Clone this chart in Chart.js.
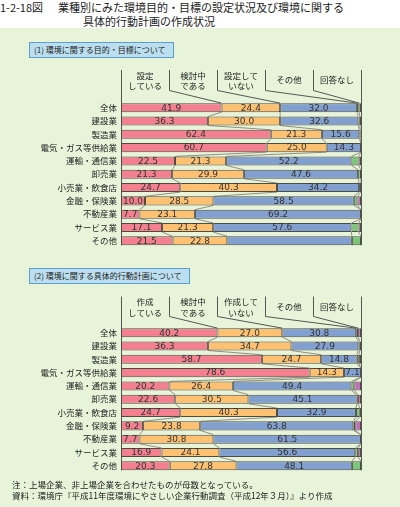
<!DOCTYPE html>
<html><head><meta charset="utf-8">
<script src="https://cdn.jsdelivr.net/npm/chart.js@4"></script>
<style>
body{margin:0;width:400px;height:507px;position:relative;background:#fff;font-family:"Noto Sans CJK JP",sans-serif;overflow:hidden}
#bg{position:absolute;left:0;top:28px;width:400px;height:479px;background:#e8f4d9}
.t{position:absolute;white-space:nowrap;color:#222}
.box{position:absolute;left:29px;height:14px;border:1px solid #5a9fd0;background:#bcdff0;font-size:8px;line-height:14px;padding:0 8px 0 4px;color:#222;white-space:nowrap}
canvas{position:absolute;left:0}
</style></head>
<body>
<div id="bg"></div>
<div class="t" style="left:0;top:0;font-size:11px;line-height:15px">1-2-18図</div>
<div class="t" style="left:58px;top:0;font-size:11px;line-height:15px">業種別にみた環境目的・目標の設定状況及び環境に関する</div>
<div class="t" style="left:83px;top:14px;font-size:11px;line-height:15px">具体的行動計画の作成状況</div>
<div class="box" style="top:41.5px">(1)&nbsp;環境に関する目的・目標について</div>
<div class="box" style="top:267.5px">(2)&nbsp;環境に関する具体的行動計画について</div>
<canvas id="c1" width="400" height="200" style="top:60px"></canvas>
<canvas id="c2" width="400" height="200" style="top:285px"></canvas>
<div class="t" style="left:12px;top:479px;font-size:8.5px;line-height:11px">注：上場企業、非上場企業を合わせたものが母数となっている。<br>資料：環境庁『平成11年度環境にやさしい企業行動調査（平成12年３月）』より作成</div>
<script>
const categories = ["全体","建設業","製造業","電気・ガス等供給業","運輸・通信業","卸売業","小売業・飲食店","金融・保険業","不動産業","サービス業","その他"];

// Panel 1: 環境目的・目標
const p1Headers = [["設定","している"],["検討中","である"],["設定して","いない"],["その他"],["回答なし"]];
const p1Set      = [41.9,36.3,62.4,60.7,22.5,21.3,24.7,10.0,7.7,17.1,21.5];
const p1Consider = [24.4,30.0,21.3,25.0,21.3,29.9,40.3,28.5,23.1,21.3,22.8];
const p1NotSet   = [32.0,32.6,15.6,14.3,52.2,47.6,34.2,58.5,69.2,57.6,51.9];
const p1Other    = [1.0,0.6,0.4,0,3.0,1.2,0.8,1.5,0,3.0,3.8];
const p1NoAnswer = [0.7,0.5,0.3,0,1.0,0,0,1.5,0,1.0,0];
const p1Unlabeled = [[2,10]]; // [series, row] values printed without number

// Panel 2: 具体的行動計画
const p2Headers = [["作成","している"],["検討中","である"],["作成して","いない"],["その他"],["回答なし"]];
const p2Make     = [40.2,36.3,58.7,78.6,20.2,22.6,24.7,9.2,7.7,16.9,20.3];
const p2Consider = [27.0,34.7,24.7,14.3,26.4,30.5,40.3,23.8,30.8,24.1,27.8];
const p2NotMake  = [30.8,27.9,14.8,7.1,49.4,45.1,32.9,63.8,61.5,56.6,48.1];
const p2Other    = [0.8,0.6,0.9,0,1.2,0.5,1.6,0.8,0,1.2,3.8];
const p2NoAnswer = [1.2,0.5,0.9,0,2.8,1.3,0.5,2.4,0,1.2,0];
const p2Unlabeled = [];

const colors = ["#f4808f","#fec071","#819fcf","#7cc679","#c46fb9"];
const CJK = '"Noto Sans CJK JP", sans-serif';

function overlayPlugin(headers, unlabeled, hTop, hBot){
  return {
    id:'overlay',
    beforeDatasetsDraw(chart){
      const ctx = chart.ctx, xs = chart.scales.x;
      const ds = chart.data.datasets;
      const n = chart.data.labels.length;
      const meta0 = chart.getDatasetMeta(0);
      const cum = (row,k)=>{let s=0;for(let j=0;j<=k;j++)s+=ds[j].data[row];return s;};
      const topOf = i => meta0.data[i].y - meta0.data[i].height/2;
      const botOf = i => meta0.data[i].y + meta0.data[i].height/2;
      ctx.save();
      ctx.strokeStyle = '#8f8f82'; ctx.lineWidth = 1;
      for(let i=0;i<n-1;i++){
        for(let k=0;k<4;k++){
          ctx.beginPath();
          ctx.moveTo(xs.getPixelForValue(cum(i,k)), botOf(i));
          ctx.lineTo(xs.getPixelForValue(cum(i+1,k)), topOf(i+1));
          ctx.stroke();
        }
      }
      ctx.strokeStyle = '#555'; ctx.lineWidth = 1;
      const lastBot = botOf(n-1);
      [0,100].forEach(v=>{
        const x = Math.round(xs.getPixelForValue(v))+0.5;
        ctx.beginPath(); ctx.moveTo(x,hTop); ctx.lineTo(x,lastBot); ctx.stroke();
      });
      for(let k=1;k<=4;k++){
        const x = Math.round(xs.getPixelForValue(20*k))+0.5;
        ctx.beginPath(); ctx.moveTo(x,hTop); ctx.lineTo(x,hBot);
        ctx.lineTo(xs.getPixelForValue(cum(0,k-1)), topOf(0));
        ctx.stroke();
      }
      ctx.fillStyle = '#222'; ctx.font = '8.5px ' + CJK;
      ctx.textAlign = 'center'; ctx.textBaseline = 'middle';
      headers.forEach((h,k)=>{
        const x = xs.getPixelForValue(20*k+10);
        if(h.length===2){
          ctx.fillText(h[0], x, hTop+5.5);
          ctx.fillText(h[1], x, hTop+16);
        } else {
          ctx.fillText(h[0], x, (hTop+hBot)/2);
        }
      });
      ctx.restore();
    },
    afterDatasetsDraw(chart){
      const ctx = chart.ctx;
      ctx.save();
      ctx.fillStyle = '#333'; ctx.font = '9px "DejaVu Sans", sans-serif';
      ctx.textAlign = 'center'; ctx.textBaseline = 'middle';
      for(let d=0; d<3; d++){
        const meta = chart.getDatasetMeta(d);
        meta.data.forEach((el,i)=>{
          if(unlabeled.some(u=>u[0]===d && u[1]===i)) return;
          const v = chart.data.datasets[d].data[i];
          ctx.fillText(v.toFixed(1), (el.x+el.base)/2, el.y+0.5);
        });
      }
      ctx.restore();
    }
  };
}

function makeChart(id, series, headers, unlabeled, hTop, hBot){
  new Chart(document.getElementById(id), {
    type:'bar',
    data:{labels:categories, datasets: series.map((s,i)=>({
      data:s, backgroundColor:colors[i], borderColor:'#4d4d45', borderWidth:1,
      borderSkipped:false, barPercentage:0.68, categoryPercentage:1}))},
    options:{
      indexAxis:'y', responsive:false, animation:false, devicePixelRatio:1,
      layout:{padding:{left:0,right:39,top:41,bottom:12.5}},
      plugins:{legend:{display:false}, tooltip:{enabled:false}},
      scales:{
        x:{stacked:true, min:0, max:100, display:false},
        y:{stacked:true, grid:{display:false, drawTicks:false}, border:{display:false},
           ticks:{font:{family:CJK, size:8.5}, color:'#222', padding:4},
           afterFit(s){ s.width = 121; }}
      }
    },
    plugins:[overlayPlugin(headers, unlabeled, hTop, hBot)]
  });
}

makeChart('c1', [p1Set,p1Consider,p1NotSet,p1Other,p1NoAnswer], p1Headers, p1Unlabeled, 10, 30.5);
makeChart('c2', [p2Make,p2Consider,p2NotMake,p2Other,p2NoAnswer], p2Headers, p2Unlabeled, 11.5, 31.5);
</script>
</body></html>
